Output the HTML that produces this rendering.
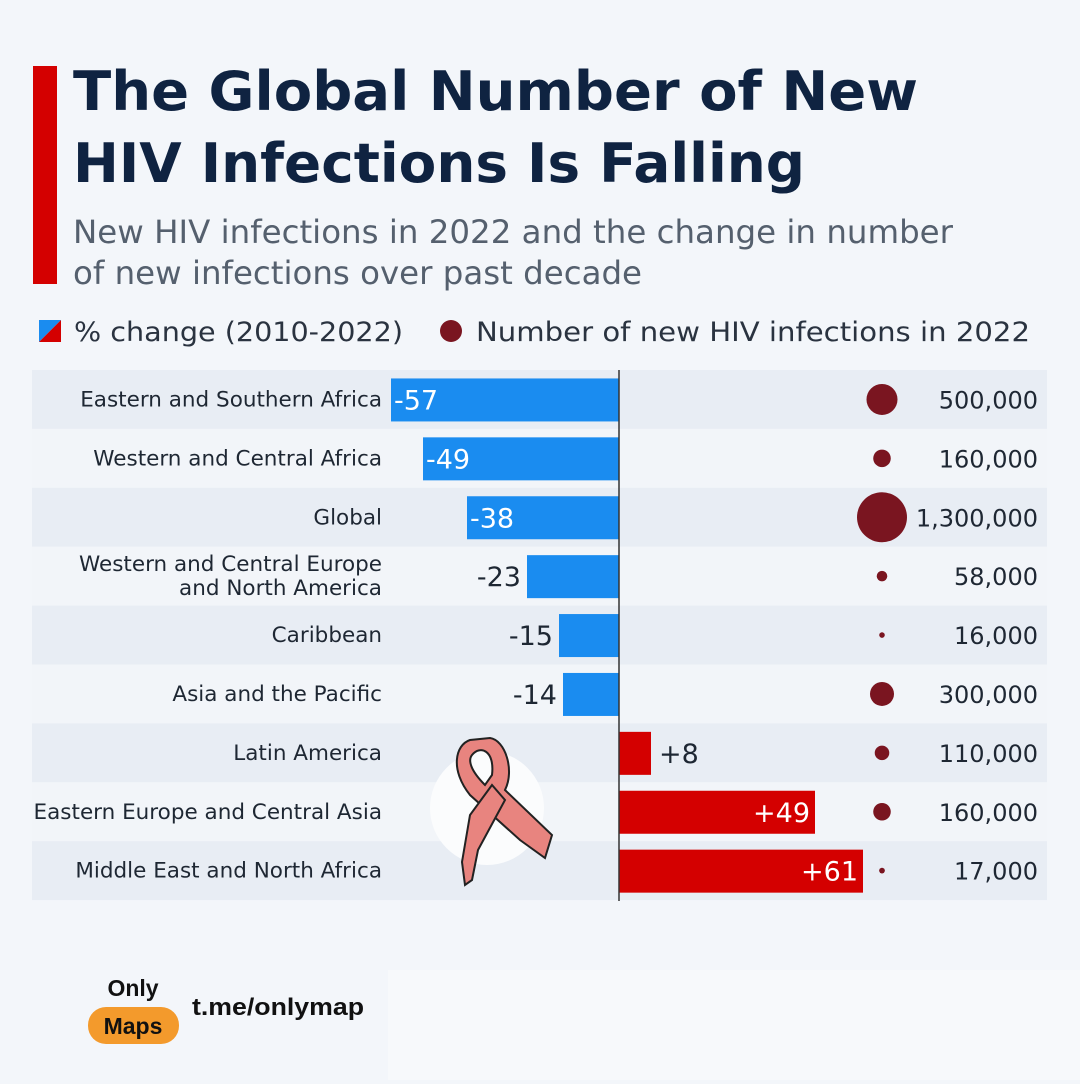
<!DOCTYPE html>
<html><head><meta charset="utf-8"><style>
body{margin:0;width:1080px;height:1080px;background:#f3f6fa;overflow:hidden;font-family:"DejaVu Sans","Liberation Sans",sans-serif;}
</style></head><body>
<svg width="1080" height="1080" xmlns="http://www.w3.org/2000/svg" font-family="DejaVu Sans, Liberation Sans, sans-serif">
<rect x="0" y="0" width="1080" height="1080" fill="#f3f6fa"/>
<rect x="33" y="66" width="24" height="218" fill="#d40000"/>
<text x="73" y="110" font-size="54" font-weight="bold" fill="#0f2341" textLength="845" lengthAdjust="spacingAndGlyphs">The Global Number of New</text>
<text x="73" y="182" font-size="54" font-weight="bold" fill="#0f2341" textLength="732" lengthAdjust="spacingAndGlyphs">HIV Infections Is Falling</text>
<text x="73" y="243" font-size="32" fill="#55606e" textLength="880" lengthAdjust="spacingAndGlyphs">New HIV infections in 2022 and the change in number</text>
<text x="73" y="284" font-size="32" fill="#55606e" textLength="569" lengthAdjust="spacingAndGlyphs">of new infections over past decade</text>
<g>
<polygon points="39,320 61,320 39,342" fill="#1a8cf0"/>
<polygon points="61,320 61,342 39,342" fill="#d40000"/>
<text x="74" y="341" font-size="27" fill="#2a3340" textLength="329" lengthAdjust="spacingAndGlyphs">% change (2010-2022)</text>
<circle cx="451" cy="331" r="11" fill="#7a1520"/>
<text x="476" y="341" font-size="27" fill="#2a3340" textLength="554" lengthAdjust="spacingAndGlyphs">Number of new HIV infections in 2022</text>
</g>
<g id="rows"></g>
<line x1="619" y1="370" x2="619" y2="901" stroke="#333" stroke-width="1.5"/>
<g>
<circle cx="487" cy="808" r="57" fill="#fbfcfd"/>
<path d="M470,740 C455,745 450,770 470,795 L520,840 L545,858 L552,835 L505,790 C515,770 505,740 490,738 Z M472,755 C480,745 495,750 492,775 L485,785 C470,770 468,760 472,755 Z" fill="#e8847f" stroke="#222" stroke-width="2"/>
<path d="M492,785 L470,815 L462,862 L465,885 L472,880 L478,850 L505,800 Z" fill="#e8847f" stroke="#222" stroke-width="2"/>
</g>
<g font-family="Liberation Sans, sans-serif">
<rect x="388" y="970" width="692" height="110" fill="#f7f9fb"/>
<text x="133" y="996" font-size="23" font-weight="bold" text-anchor="middle" fill="#111">Only</text>
<rect x="88" y="1007" width="91" height="37" rx="18" fill="#f39a2c"/>
<text x="133" y="1034" font-size="23" font-weight="bold" text-anchor="middle" fill="#111">Maps</text>
<text x="192" y="1015" font-size="24" font-weight="bold" fill="#111" textLength="172" lengthAdjust="spacingAndGlyphs">t.me/onlymap</text>
</g>
</svg>
<script>
const categories=["Eastern and Southern Africa","Western and Central Africa","Global","Western and Central Europe|and North America","Caribbean","Asia and the Pacific","Latin America","Eastern Europe and Central Asia","Middle East and North Africa"];
const changes=[-57,-49,-38,-23,-15,-14,8,49,61];
const infections=[500000,160000,1300000,58000,16000,300000,110000,160000,17000];
const infectionLabels=["500,000","160,000","1,300,000","58,000","16,000","300,000","110,000","160,000","17,000"];
const NS="http://www.w3.org/2000/svg";
const g=document.getElementById('rows');
const x0=619,pxPer=4,top0=370,pitch=58.9;
const xScale=v=>x0+v*pxPer;
const rScale=v=>25*Math.sqrt(v/1300000);
function el(t,a){const e=document.createElementNS(NS,t);for(const k in a)e.setAttribute(k,a[k]);g.appendChild(e);return e;}
categories.forEach((c,i)=>{
 const y=top0+i*pitch,cy=y+pitch/2;
 const band=el('rect',{x:32,y:y,width:1015,height:pitch,fill:i%2?'#f2f5f9':'#e8edf4'});
 
 
 const parts=c.split('|');
 parts.forEach((p,j)=>{
  const t=el('text',{x:382,y:cy+7+(parts.length>1?(j-0.5)*24:0),'font-size':21.5,'text-anchor':'end',fill:'#1e2733'});
  t.textContent=p;
  
  
 });
 const v=changes[i],xv=xScale(v);
 const bar=el('rect',{x:Math.min(x0,xv),y:cy-21,width:Math.abs(xv-x0),height:43,fill:v<0?'#1a8cf0':'#d40000'});
 
 
 const inside=Math.abs(v)>=30;
 const lbl=v>0?'+'+v:''+v;
 let lx,anchor;
 if(v<0){lx=inside?xv+3:xv-6;anchor=inside?'start':'end';}
 else{lx=inside?xv-5:xv+8;anchor=inside?'end':'start';}
 const vt=el('text',{x:lx,y:cy+10,'font-size':27,'text-anchor':anchor,fill:inside?'#fff':'#1e2733'});
 vt.textContent=lbl;
 
 
 const circ=el('circle',{cx:882,cy:cy,r:rScale(infections[i]),fill:'#7a1520'});
 
 
 const nt=el('text',{x:1038,y:cy+9,'font-size':24,'text-anchor':'end',fill:'#1e2733'});
 nt.textContent=infectionLabels[i];
 
 
});
</script>
</body></html>
